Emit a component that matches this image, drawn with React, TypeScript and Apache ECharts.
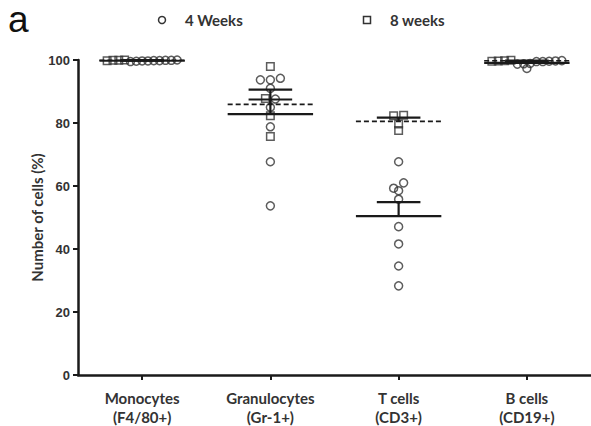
import { useEffect, useRef } from 'react';
import * as echarts from 'echarts';

const categories = ['Monocytes\n(F4/80+)', 'Granulocytes\n(Gr-1+)', 'T cells\n(CD3+)', 'B cells\n(CD19+)'];
const seriesNames = ['4 Weeks', '8 weeks'];

// 4 weeks (circles)
const monocytes4 = [100, 99.9, 99.9, 99.8, 99.8, 99.7, 99.7, 99.6, 99.5];
const granulocytes4 = [94.2, 93.7, 93.7, 91.0, 87.6, 85.0, 78.8, 67.7, 53.7];
const tcells4 = [67.7, 61.0, 59.3, 58.5, 55.8, 47.1, 41.6, 34.6, 28.3];
const bcells4 = [99.8, 99.7, 99.6, 99.5, 99.5, 98.9, 98.8, 98.7, 97.3];

// 8 weeks (squares)
const monocytes8 = [100, 99.9, 99.9, 99.8];
const granulocytes8 = [97.9, 87.8, 82.3, 75.7];
const tcells8 = [82.5, 82.3, 79.7, 77.6];
const bcells8 = [99.9, 99.8, 99.7, 99.6];

const yMin = 0;
const yMax = 100;
const yInterval = 20;

const weeks4 = [monocytes4, granulocytes4, tcells4, bcells4];
const weeks8 = [monocytes8, granulocytes8, tcells8, bcells8];
const allSeries = [weeks4, weeks8];

const FONT = 'Lato, "Open Sans", sans-serif';
const INK = '#333';
const LINE = '#1a1a1a';

function mean(a: number[]) {
  return a.reduce((s, v) => s + v, 0) / a.length;
}
function sem(a: number[]) {
  const m = mean(a);
  const v = a.reduce((s, x) => s + (x - m) * (x - m), 0) / (a.length - 1);
  return Math.sqrt(v) / Math.sqrt(a.length);
}

// simple beeswarm: points with close values are spread side by side
function swarmOffsets() {
  const offsets = allSeries.map((s) => s.map((vals) => vals.map(() => 0)));
  categories.forEach((_, c) => {
    const pts: { si: number; i: number; v: number }[] = [];
    allSeries.forEach((s, si) => s[c].forEach((v, i) => pts.push({ si, i, v })));
    pts.sort((a, b) => b.v - a.v);
    let row: { si: number; i: number; v: number }[] = [];
    const flush = () => {
      const n = row.length;
      const step = n > 1 ? Math.min(10, 70 / (n - 1)) : 0;
      row.sort((a, b) => b.si - a.si || a.v - b.v);
      row.forEach((p, k) => {
        offsets[p.si][c][p.i] = (k - (n - 1) / 2) * step;
      });
      row = [];
    };
    pts.forEach((p) => {
      if (row.length && row[0].v - p.v > 2) flush();
      row.push(p);
    });
    flush();
  });
  return offsets;
}

export default function App() {
  const ref = useRef<HTMLDivElement>(null);
  useEffect(() => {
    if (!ref.current) return;
    const chart = echarts.init(ref.current, undefined, { renderer: 'svg' });
    const offsets = swarmOffsets();

    const scatterData = (si: number) =>
      allSeries[si].flatMap((vals, c) =>
        vals.map((v, i) => ({ value: [c, v], symbolOffset: [offsets[si][c][i], 0] }))
      );

    const statData = (si: number) =>
      allSeries[si].map((vals, c) => [c, mean(vals), sem(vals)]);

    const renderStat = (dashed: boolean) => (params: any, api: any) => {
      const x = api.value(0);
      const m = api.value(1);
      const e = api.value(2);
      const c = api.coord([x, m]);
      const t = api.coord([x, m + e]);
      const bw = api.size([1, 0])[0];
      const style = { stroke: LINE, lineWidth: dashed ? 1.6 : 2.2, lineDash: dashed ? [5, 3] : null };
      const solid = { stroke: LINE, lineWidth: 2.2 };
      return {
        type: 'group',
        children: [
          { type: 'line', shape: { x1: c[0] - bw * 0.333, y1: c[1], x2: c[0] + bw * 0.333, y2: c[1] }, style },
          { type: 'line', shape: { x1: c[0], y1: c[1], x2: c[0], y2: t[1] }, style: solid },
          { type: 'line', shape: { x1: c[0] - bw * 0.17, y1: t[1], x2: c[0] + bw * 0.17, y2: t[1] }, style: solid },
        ],
      };
    };

    const legendText = { fontFamily: FONT, fontWeight: 'bold', fontSize: 15, fill: INK };

    chart.setOption({
      animation: false,
      backgroundColor: '#fff',
      grid: { left: 78, top: 60, right: -3, bottom: 51 },
      graphic: [
        {
          type: 'text',
          left: 8,
          top: 1,
          style: { text: 'a', fontFamily: 'Liberation Sans, Arial, sans-serif', fontSize: 37, fill: '#111' },
        },
        {
          type: 'circle',
          shape: { cx: 162, cy: 20, r: 3.5 },
          style: { fill: 'none', stroke: INK, lineWidth: 1.5 },
        },
        {
          type: 'text',
          x: 185,
          y: 20,
          style: { ...legendText, text: seriesNames[0], verticalAlign: 'middle' },
        },
        {
          type: 'rect',
          shape: { x: 363.5, y: 16.5, width: 7, height: 7 },
          style: { fill: 'none', stroke: INK, lineWidth: 1.5 },
        },
        {
          type: 'text',
          x: 390,
          y: 20,
          style: { ...legendText, text: seriesNames[1], verticalAlign: 'middle' },
        },
      ],
      xAxis: {
        type: 'category',
        data: categories,
        axisLine: { show: true, lineStyle: { color: LINE, width: 2.5 } },
        axisTick: { show: true, alignWithLabel: true, length: 5, lineStyle: { color: LINE, width: 2 } },
        axisLabel: {
          margin: 13,
          fontFamily: FONT,
          fontWeight: 'bold',
          fontSize: 15,
          lineHeight: 19,
          color: INK,
        },
        splitLine: { show: false },
      },
      yAxis: {
        type: 'value',
        min: yMin,
        max: yMax,
        interval: yInterval,
        name: 'Number of cells (%)',
        nameLocation: 'middle',
        nameGap: 34,
        nameMoveOverlap: false,
        nameTextStyle: { fontFamily: FONT, fontWeight: 'bold', fontSize: 15, color: INK },
        axisLine: { show: true, lineStyle: { color: LINE, width: 2.5 } },
        axisTick: { show: true, length: 5, lineStyle: { color: LINE, width: 2 } },
        axisLabel: { margin: 8, fontFamily: 'Liberation Sans, Arial, sans-serif', fontWeight: 'bold', fontSize: 13, color: INK },
        splitLine: { show: false },
      },
      series: [
        {
          name: seriesNames[0],
          type: 'scatter',
          symbol: 'circle',
          symbolSize: 8,
          clip: false,
          itemStyle: { color: 'transparent', borderColor: INK, borderWidth: 1.5 },
          data: scatterData(0),
          z: 2,
        },
        {
          name: seriesNames[1],
          type: 'scatter',
          symbol: 'rect',
          symbolSize: 7.5,
          clip: false,
          itemStyle: { color: 'transparent', borderColor: INK, borderWidth: 1.5 },
          data: scatterData(1),
          z: 2,
        },
        {
          name: 'mean4',
          type: 'custom',
          renderItem: renderStat(false),
          data: statData(0),
          clip: false,
          z: 3,
        },
        {
          name: 'mean8',
          type: 'custom',
          renderItem: renderStat(true),
          data: statData(1),
          clip: false,
          z: 3,
        },
      ],
    });
    return () => chart.dispose();
  }, []);
  return <div ref={ref} style={{ width: 591, height: 426, position: 'absolute', left: 0, top: 0 }} />;
}
